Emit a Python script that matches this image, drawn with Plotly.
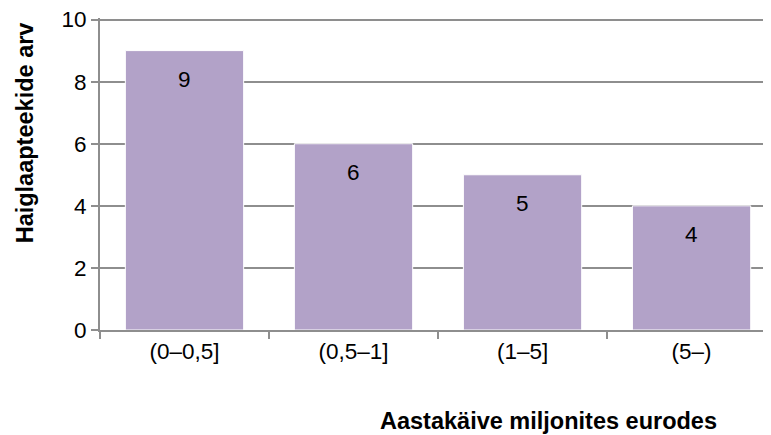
import plotly.graph_objects as go

categories = ["(0–0,5]", "(0,5–1]", "(1–5]", "(5–)"]
values = [9, 6, 5, 4]
y_ticks = [0, 2, 4, 6, 8, 10]
x_title = "Aastakäive miljonites eurodes"
y_title = "Haiglaapteekide arv"

FONT = "Liberation Sans, Arial, sans-serif"
GRAY = "#8E8E8E"

fig = go.Figure(go.Bar(
    x=categories, y=values,
    marker=dict(color="#B2A2C8", line=dict(color="white", width=1)),
    width=0.7,
    hoverinfo="x+y",
))

annotations = [
    dict(x=c, y=v, xref="x", yref="y", text=str(v), showarrow=False,
         yanchor="middle", yshift=-29, font=dict(size=22.5, color="black"))
    for c, v in zip(categories, values)
]
annotations += [
    dict(text=f"<b>{x_title}</b>", xref="paper", yref="paper",
         x=0.668, y=-0.293, xanchor="center", yanchor="middle",
         showarrow=False, font=dict(size=23.5)),
    dict(text=f"<b>{y_title}</b>", xref="paper", yref="paper",
         x=-0.1125, y=0.632, xanchor="center", yanchor="middle",
         textangle=-90, showarrow=False, font=dict(size=23.5)),
]

fig.update_layout(
    width=763, height=427,
    margin=dict(l=92, r=0, t=10, b=105, pad=0),
    plot_bgcolor="white", paper_bgcolor="white",
    font=dict(family=FONT, size=22, color="black"),
    showlegend=False,
    xaxis=dict(
        range=[-0.5, 3.47], showline=True, linecolor=GRAY, linewidth=2,
        ticks="outside", tickson="boundaries", ticklen=7, tickcolor=GRAY, tickwidth=2,
        tickfont=dict(size=22.5), showgrid=False,
    ),
    yaxis=dict(
        range=[0, 10.05], tickvals=y_ticks, showline=True, linecolor=GRAY, linewidth=2,
        ticks="outside", ticklen=7, tickcolor=GRAY, tickwidth=2,
        showgrid=True, gridcolor=GRAY, gridwidth=2,
        tickfont=dict(size=22.5), zeroline=False, ticklabeloverflow="allow",
    ),
    annotations=annotations,
)

fig.write_html("out.html")
